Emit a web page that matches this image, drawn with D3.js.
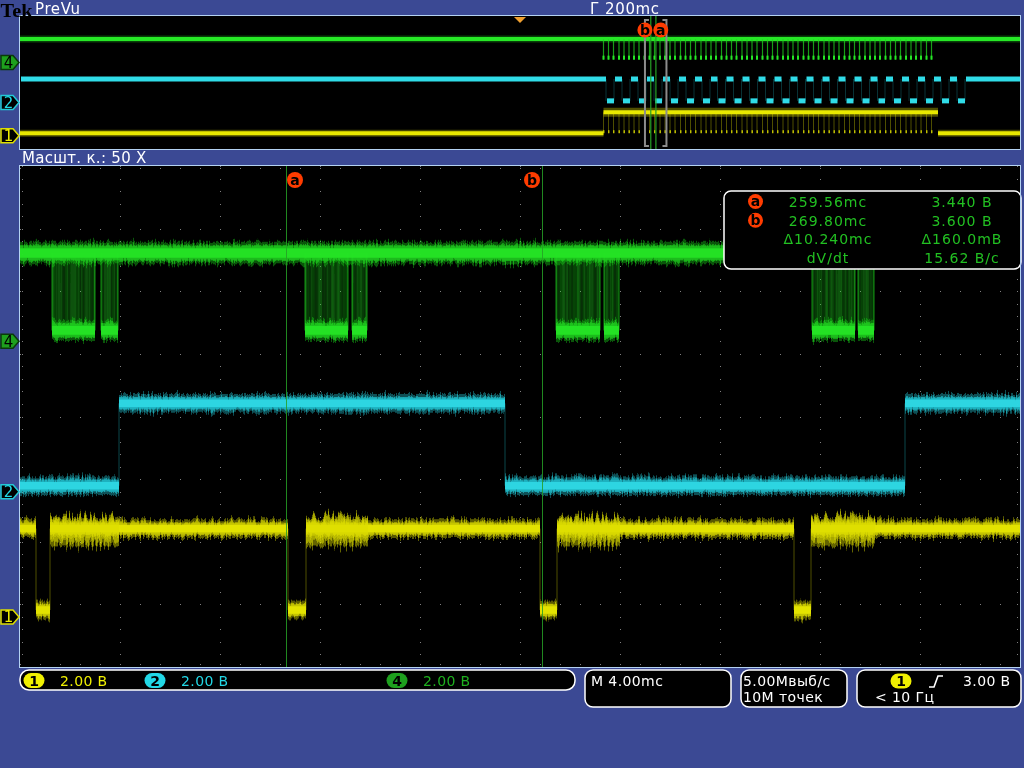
<!DOCTYPE html>
<html><head><meta charset="utf-8">
<script src="https://cdn.jsdelivr.net/npm/d3@7"></script>
<style>html,body{margin:0;padding:0;background:#3b4994;overflow:hidden}svg{display:block}</style>
</head><body>
<svg id="c" width="1024" height="768"></svg>
<script>
// ================= DATA =================
const timeWindow = [248.92, 288.92];        // ms shown in the zoomed view (10 div x 4 ms)
const overviewWindow = [-1000, 1000];       // ms, whole record (PreVu strip)
const channelNames = ["1", "2", "4"];
const channelPositions = [-3.2, -1.2, 1.2]; // ground marker, divisions from centre
const voltsPerDiv = [2, 2, 2];

// CH1 (yellow): step changes
const ch1Times = [248.92, 249.56, 250.12, 259.64, 260.36, 269.72, 270.40, 279.88, 280.56, 288.92];
const ch1Volts = [2.82, 0.22, 2.82, 0.22, 2.82, 0.22, 2.82, 0.22, 2.82];
const ch1NoiseStart = [250.12, 260.36, 270.40, 280.56];
const ch1NoiseEnd   = [252.88, 262.84, 272.92, 283.12];
const ch1NoiseTop = 3.38, ch1NoiseBottom = 2.10;

// CH2 (cyan)
const ch2Times = [248.92, 252.88, 268.32, 284.32, 288.92];
const ch2Volts = [0.19, 2.82, 0.19, 2.82];

// CH4 (green)
const ch4High = 2.82, ch4Low = 0.35;
const ch4BurstStart = [250.20, 252.16, 260.32, 262.20, 270.36, 272.28, 280.60, 282.44];
const ch4BurstEnd   = [251.92, 252.84, 262.04, 262.80, 272.12, 272.88, 282.32, 283.08];

// Cursors
const cursorNames = ["a", "b"];
const cursorTimes = [259.56, 269.80];
const readoutLabels = ["a", "b", "", ""];
const readoutLeft  = ["259.56mс", "269.80mс", "Δ10.240mс", "dV/dt"];
const readoutRight = ["3.440 В", "3.600 В", "Δ160.0mВ", "15.62 В/с"];

// Overview (PreVu) data
const ovHigh = 2.82, ovCh4Low = 0.35, ovCh2Low = 0.19, ovCh1Base = 0.3;
const ovBurst = [167, 836];
const ovSpikeTimes = [167,177,187,198,208,218,228,238,249,259,269,280,290,300,310,321,331,341,351,362,372,382,392,403,413,423,433,444,454,464,474,485,495,505,515,526,536,546,556,567,577,587,597,608,618,628,638,649,659,669,679,690,700,710,720,731,741,751,761,772,782,792,802,813,823];
const ovCh2Edges = [172,188,204,220,236,252,268,284,300,316,332,348,364,380,395,411,427,443,459,475,491,507,523,539,555,571,587,603,619,635,651,667,683,699,715,730,746,762,778,794,810,826,842,858,874,890];

// Status texts
const headerLeft = "PreVu";
const headerCenter = "Г 200mс";
const zoomText = "Масшт. к.: 50 X";
const chScaleText = ["2.00 В", "2.00 В", "2.00 В"];
const timebaseText = "M 4.00mс";
const acqText = ["5.00Мвыб/с", "10M точек"];
const trigText = ["3.00 В", "< 10 Гц"];

// ================= STYLE =================
const S = {
  bg: "#3b4994", border: "#b4d2f2", grid: "#808080",
  col: {"1": "#dede00", "2": "#22c8d6", "4": "#1fd41f"},
  core: {"1": "#e8e800", "2": "#30dce8", "4": "#26e826"},
  txt: {"1": "#f0f000", "2": "#22d8e6", "4": "#1eb01e"},
  pill: {"1": "#f0f000", "2": "#22d8e6", "4": "#1ea01e"},
  readout: "#22c022", cursor: "#26a026", label: "#ff3c00",
  font: "DejaVu Sans, sans-serif"
};

const svg = d3.select("#c");
svg.append("rect").attr("width", 1024).attr("height", 768).attr("fill", S.bg);
const defs = svg.append("defs");

// texture filters (visual noise styling only)
function fuzzFilter(id, fx, fy, scale, seed) {
  const f = defs.append("filter").attr("id", id).attr("filterUnits", "userSpaceOnUse")
    .attr("x", 0).attr("y", 0).attr("width", 1024).attr("height", 768);
  f.append("feTurbulence").attr("type", "fractalNoise").attr("baseFrequency", `${fx} ${fy}`)
    .attr("numOctaves", 2).attr("seed", seed).attr("result", "n");
  f.append("feColorMatrix").attr("in", "n").attr("type", "matrix")
    .attr("values", "0 0 0 0 0.5  0 1 0 0 0  0 0 0 0 0  0 0 0 0 1").attr("result", "m");
  f.append("feDisplacementMap").attr("in", "SourceGraphic").attr("in2", "m").attr("scale", scale)
    .attr("xChannelSelector", "R").attr("yChannelSelector", "G");
}
fuzzFilter("fuzz", 0.6, 0.02, 12, 3);
fuzzFilter("fuzzBig", 0.5, 0.02, 24, 7);
(function () {
  const f = defs.append("filter").attr("id", "stripes").attr("filterUnits", "userSpaceOnUse")
    .attr("x", 0).attr("y", 0).attr("width", 1024).attr("height", 768);
  f.append("feTurbulence").attr("type", "fractalNoise").attr("baseFrequency", "0.35 0.0005")
    .attr("numOctaves", 2).attr("seed", 11).attr("result", "n");
  f.append("feColorMatrix").attr("in", "n").attr("type", "matrix")
    .attr("values", "0 0 0 0 0  0 0 0 0 0  0 0 0 0 0  2.6 0 0 0 -0.9").attr("result", "a");
  f.append("feComposite").attr("in", "SourceGraphic").attr("in2", "a").attr("operator", "in");
})();

// ================= MAIN VIEW =================
const P = {x0: 20, x1: 1020, y0: 166, y1: 667};
const x = d3.scaleLinear(timeWindow, [P.x0, P.x1]);
const xDiv = d3.scaleLinear([0, 10], [P.x0, P.x1]);
const yDiv = d3.scaleLinear([-4, 4], [P.y1, P.y0]);
const yM = (ci, v) => yDiv(channelPositions[ci] + v / voltsPerDiv[ci]);

svg.append("rect").attr("x", P.x0).attr("y", P.y0).attr("width", P.x1 - P.x0).attr("height", P.y1 - P.y0).attr("fill", "#000");
defs.append("clipPath").attr("id", "clipM").append("rect").attr("x", P.x0).attr("y", P.y0).attr("width", P.x1 - P.x0).attr("height", P.y1 - P.y0);

// grid dots
const gGrid = svg.append("g").attr("fill", S.grid);
const vDots = [], hDots = [];
d3.range(1, 10).forEach(i => d3.range(0, 41).forEach(j => vDots.push([xDiv(i), yDiv(-4 + j * 0.2)])));
d3.range(-3, 4).forEach(k => d3.range(0, 51).forEach(m => hDots.push([xDiv(m * 0.2), yDiv(k)])));
d3.range(0, 51).forEach(m => { hDots.push([xDiv(m * 0.2), P.y0 + 2]); hDots.push([xDiv(m * 0.2), P.y1 - 3]); });
d3.range(0, 41).forEach(j => { vDots.push([P.x0 + 2, yDiv(-4 + j * 0.2)]); vDots.push([P.x1 - 3, yDiv(-4 + j * 0.2)]); });
gGrid.selectAll(null).data(vDots.concat(hDots)).join("rect")
  .attr("x", d => Math.round(d[0])).attr("y", d => Math.round(d[1])).attr("width", 1).attr("height", 1);

const gT = svg.append("g").attr("clip-path", "url(#clipM)");
const segs = (times, volts) => volts.map((v, i) => ({t0: times[i], t1: times[i + 1], v}));

function bands(g, data, ci, halfV, color, op) {
  g.append("g").selectAll("rect").data(data).join("rect")
    .attr("x", d => x(d.t0)).attr("width", d => x(d.t1) - x(d.t0))
    .attr("y", d => yM(ci, d.v + halfV))
    .attr("height", d => yM(ci, d.v - halfV) - yM(ci, d.v + halfV))
    .attr("fill", color).attr("opacity", op);
}
function edges(g, times, volts, ci, color, op) {
  const e = times.slice(1, -1).map((t, i) => ({t, a: volts[i], b: volts[i + 1]}));
  g.append("g").selectAll("line").data(e).join("line")
    .attr("x1", d => x(d.t)).attr("x2", d => x(d.t))
    .attr("y1", d => yM(ci, d.a)).attr("y2", d => yM(ci, d.b))
    .attr("stroke", color).attr("stroke-width", 1).attr("opacity", op);
}
function stepTrace(times, volts, ci, key) {
  const g = gT.append("g");
  const d = segs(times, volts);
  edges(g, times, volts, ci, S.col[key], 0.35);
  const fz = g.append("g").attr("filter", "url(#fuzz)");
  bands(fz, d, ci, 0.3, S.col[key], 0.4);
  bands(fz, d, ci, 0.2, S.col[key], 0.65);
  bands(g, d, ci, 0.19, S.col[key], 0.45);
  bands(g, d, ci, 0.12, S.core[key], 0.85);
  return g;
}

// CH2
stepTrace(ch2Times, ch2Volts, 1, "2");
// CH1
const g1 = stepTrace(ch1Times, ch1Volts, 0, "1");
const noise = ch1NoiseStart.map((s, i) => ({t0: s, t1: ch1NoiseEnd[i]}));
const g1n = g1.append("g").attr("filter", "url(#fuzzBig)");
g1n.append("g").selectAll("rect").data(noise).join("rect")
  .attr("x", d => x(d.t0)).attr("width", d => x(d.t1) - x(d.t0))
  .attr("y", yM(0, ch1NoiseTop - 0.15)).attr("height", yM(0, ch1NoiseBottom + 0.15) - yM(0, ch1NoiseTop - 0.15))
  .attr("fill", S.col["1"]).attr("opacity", 0.45);
g1n.append("g").selectAll("rect").data(noise).join("rect")
  .attr("x", d => x(d.t0)).attr("width", d => x(d.t1) - x(d.t0))
  .attr("y", yM(0, 3.15)).attr("height", yM(0, 2.4) - yM(0, 3.15))
  .attr("fill", S.col["1"]).attr("opacity", 0.55);

// CH4
const g4 = gT.append("g");
const bursts = ch4BurstStart.map((s, i) => ({t0: s, t1: ch4BurstEnd[i], v: ch4Low}));
g4.append("g").selectAll("rect").data(bursts).join("rect")
  .attr("x", d => x(d.t0)).attr("width", d => x(d.t1) - x(d.t0))
  .attr("y", yM(2, ch4High)).attr("height", yM(2, ch4Low) - yM(2, ch4High))
  .attr("fill", S.col["4"]).attr("opacity", 0.22);
g4.append("g").attr("filter", "url(#stripes)").selectAll("rect").data(bursts).join("rect")
  .attr("x", d => x(d.t0)).attr("width", d => x(d.t1) - x(d.t0))
  .attr("y", yM(2, ch4High)).attr("height", yM(2, ch4Low) - yM(2, ch4High))
  .attr("fill", S.col["4"]).attr("opacity", 0.3);
g4.append("g").selectAll("line").data(bursts.flatMap(d => [d.t0, d.t1])).join("line")
  .attr("x1", d => x(d)).attr("x2", d => x(d)).attr("y1", yM(2, ch4High)).attr("y2", yM(2, ch4Low))
  .attr("stroke", S.col["4"]).attr("stroke-width", 1.5).attr("opacity", 0.45);
const hiSeg = [{t0: timeWindow[0], t1: timeWindow[1], v: ch4High}];
const fz4 = g4.append("g").attr("filter", "url(#fuzz)");
bands(fz4, hiSeg, 2, 0.36, S.col["4"], 0.4);
bands(fz4, hiSeg, 2, 0.25, S.col["4"], 0.65);
bands(fz4, bursts, 2, 0.34, S.col["4"], 0.4);
bands(fz4, bursts, 2, 0.24, S.col["4"], 0.65);
bands(g4, hiSeg, 2, 0.24, S.col["4"], 0.45);
bands(g4, bursts, 2, 0.23, S.col["4"], 0.45);
bands(g4, hiSeg, 2, 0.15, S.core["4"], 0.85);
bands(g4, bursts, 2, 0.14, S.core["4"], 0.85);

// cursors
const gc = svg.append("g");
gc.selectAll("line").data(cursorTimes).join("line")
  .attr("x1", d => x(d) + 0.5).attr("x2", d => x(d) + 0.5).attr("y1", P.y0).attr("y2", P.y1)
  .attr("stroke", S.cursor).attr("stroke-width", 1).attr("opacity", 0.85);
function badge(g, cx, cy, t, r) {
  g.append("circle").attr("cx", cx).attr("cy", cy).attr("r", r).attr("fill", S.label);
  g.append("text").attr("x", cx).attr("y", cy + 4.5).attr("text-anchor", "middle")
    .attr("font-family", S.font).attr("font-weight", "bold").attr("font-size", 14).attr("fill", "#000").text(t);
}
cursorTimes.forEach((t, i) => badge(gc, x(t) + (i === 0 ? 9 : -10), 180, cursorNames[i], 8));

// readout box
const gr = svg.append("g");
gr.append("rect").attr("x", 724).attr("y", 191).attr("width", 297).attr("height", 78).attr("rx", 7)
  .attr("fill", "#000").attr("stroke", "#fff").attr("stroke-width", 1.5);
readoutLeft.forEach((t, i) => {
  const by = 207 + i * 18.7;
  if (readoutLabels[i]) badge(gr, 755.5, by - 5.5, readoutLabels[i], 7.5);
  gr.append("text").attr("x", 828).attr("y", by).attr("text-anchor", "middle").attr("font-family", S.font)
    .attr("font-size", 14).attr("letter-spacing", 1).attr("fill", S.readout).text(t);
  gr.append("text").attr("x", 962).attr("y", by).attr("text-anchor", "middle").attr("font-family", S.font)
    .attr("font-size", 14).attr("letter-spacing", 1).attr("fill", S.readout).text(readoutRight[i]);
});

svg.append("rect").attr("x", P.x0 - 0.5).attr("y", P.y0 - 0.5).attr("width", P.x1 - P.x0 + 1).attr("height", P.y1 - P.y0 + 1)
  .attr("fill", "none").attr("stroke", S.border).attr("stroke-width", 1);

// ================= OVERVIEW =================
const O = {x0: 20, x1: 1020, y0: 16, y1: 149};
const xO = d3.scaleLinear(overviewWindow, [O.x0, O.x1]);
const yDivO = d3.scaleLinear([-4, 4], [O.y1, O.y0]);
const yO = (ci, v) => yDivO(channelPositions[ci] + v / voltsPerDiv[ci]);
svg.append("rect").attr("x", O.x0).attr("y", O.y0).attr("width", O.x1 - O.x0).attr("height", O.y1 - O.y0).attr("fill", "#000");
defs.append("clipPath").attr("id", "clipO").append("rect").attr("x", O.x0).attr("y", O.y0).attr("width", O.x1 - O.x0).attr("height", O.y1 - O.y0);
const gO = svg.append("g").attr("clip-path", "url(#clipO)");
function hline(g, t0, t1, yy, color, w, op) {
  g.append("line").attr("x1", xO(t0)).attr("x2", xO(t1)).attr("y1", yy).attr("y2", yy)
    .attr("stroke", color).attr("stroke-width", w).attr("opacity", op);
}
// green
hline(gO, overviewWindow[0], overviewWindow[1], yO(2, ovHigh), S.col["4"], 7, 0.3);
hline(gO, overviewWindow[0], overviewWindow[1], yO(2, ovHigh), S.core["4"], 4, 1);
gO.append("g").selectAll("line").data(ovSpikeTimes).join("line")
  .attr("x1", d => xO(d)).attr("x2", d => xO(d)).attr("y1", yO(2, ovHigh)).attr("y2", yO(2, ovCh4Low))
  .attr("stroke", S.col["4"]).attr("stroke-width", 1.2).attr("opacity", 0.75);
gO.append("g").selectAll("rect").data(ovSpikeTimes).join("rect")
  .attr("x", d => xO(d) - 1).attr("y", yO(2, ovCh4Low) - 4).attr("width", 2).attr("height", 4)
  .attr("fill", S.core["4"]);
// cyan
const ovEdgesAll = [overviewWindow[0]].concat(ovCh2Edges, [overviewWindow[1]]);
const ovCyan = ovEdgesAll.slice(0, -1).map((t, i) => ({t0: t, t1: ovEdgesAll[i + 1], v: i % 2 === 0 ? ovHigh : ovCh2Low}));
gO.append("g").selectAll("line").data(ovCh2Edges).join("line")
  .attr("x1", d => xO(d)).attr("x2", d => xO(d)).attr("y1", yO(1, ovHigh)).attr("y2", yO(1, ovCh2Low))
  .attr("stroke", S.col["2"]).attr("stroke-width", 1).attr("opacity", 0.25);
gO.append("g").selectAll("rect").data(ovCyan).join("rect")
  .attr("x", d => xO(d.t0) + 1).attr("width", d => Math.max(0, xO(d.t1) - xO(d.t0) - 1))
  .attr("y", d => yO(1, d.v) - 2.5).attr("height", 5).attr("fill", S.core["2"]);
// yellow
hline(gO, overviewWindow[0], ovBurst[0], yO(0, ovCh1Base), S.col["1"], 7, 0.3);
hline(gO, overviewWindow[0], ovBurst[0], yO(0, ovCh1Base), S.core["1"], 4, 1);
hline(gO, ovBurst[1], overviewWindow[1], yO(0, ovCh1Base), S.col["1"], 7, 0.3);
hline(gO, ovBurst[1], overviewWindow[1], yO(0, ovCh1Base), S.core["1"], 4, 1);
gO.append("g").selectAll("line").data(ovSpikeTimes).join("line")
  .attr("x1", d => xO(d)).attr("x2", d => xO(d)).attr("y1", yO(0, ovHigh)).attr("y2", yO(0, ovCh1Base))
  .attr("stroke", S.col["1"]).attr("stroke-width", 1).attr("opacity", 0.35);
gO.append("g").selectAll("rect").data(ovSpikeTimes).join("rect")
  .attr("x", d => xO(d) - 0.5).attr("y", yO(0, ovCh1Base) - 3).attr("width", 1.5).attr("height", 3)
  .attr("fill", S.col["1"]).attr("opacity", 0.8);
hline(gO, ovBurst[0], ovBurst[1], yO(0, ovHigh), S.col["1"], 9, 0.35);
hline(gO, ovBurst[0], ovBurst[1], yO(0, ovHigh), S.core["1"], 4, 1);
// cursors and zoom bracket
gO.append("g").selectAll("line").data(cursorTimes).join("line")
  .attr("x1", d => xO(d) + 1).attr("x2", d => xO(d) + 1).attr("y1", O.y0).attr("y2", O.y1)
  .attr("stroke", S.cursor).attr("stroke-width", 1.2);
const bx0 = xO(timeWindow[0]) + 0.5, bx1 = xO(timeWindow[1]) + 2;
gO.append("path").attr("d", `M${bx0 + 4},20 H${bx0} V146 H${bx0 + 4} M${bx1 - 4},20 H${bx1} V146 H${bx1 - 4}`)
  .attr("fill", "none").attr("stroke", "#8c8c8c").attr("stroke-width", 2);
badge(svg, xO(cursorTimes[1]) - 10, 30, "b", 7.5);
badge(svg, xO(cursorTimes[0]) + 11, 30, "a", 7.5);
svg.append("rect").attr("x", O.x0 - 0.5).attr("y", O.y0 - 0.5).attr("width", O.x1 - O.x0 + 1).attr("height", O.y1 - O.y0 + 1)
  .attr("fill", "none").attr("stroke", S.border).attr("stroke-width", 1);
// trigger position marker
svg.append("path").attr("d", `M${xO(0) - 6},17 L${xO(0) + 6},17 L${xO(0)},23 Z`).attr("fill", "#f0a030");

// ================= HEADER / LABELS =================
svg.append("text").attr("x", 0.5).attr("y", 16.5).attr("font-family", "Liberation Serif, serif").attr("font-weight", "bold")
  .attr("font-size", 18.5).attr("textLength", 32).attr("lengthAdjust", "spacingAndGlyphs")
  .attr("fill", "#000").text("Tek");
svg.append("text").attr("x", 35).attr("y", 13.5).attr("font-family", S.font).attr("font-size", 15)
  .attr("letter-spacing", 0.6).attr("fill", "#fff").text(headerLeft);
svg.append("text").attr("x", 590).attr("y", 13.5).attr("font-family", S.font).attr("font-size", 15)
  .attr("letter-spacing", 0.6).attr("fill", "#fff").text(headerCenter);
svg.append("text").attr("x", 22).attr("y", 163).attr("font-family", S.font).attr("font-size", 15)
  .attr("letter-spacing", 0.3).attr("fill", "#fff").text(zoomText);

// channel markers
function chMarker(yy, ci) {
  const key = channelNames[ci];
  const filled = key === "4";
  const g = svg.append("g");
  g.append("path").attr("d", `M1,${yy - 7} L13,${yy - 7} L19,${yy} L13,${yy + 7} L1,${yy + 7} Z`)
    .attr("fill", filled ? S.pill["4"] : "#000").attr("stroke", filled ? "#0a3a0a" : S.col[key]).attr("stroke-width", 1.5);
  g.append("text").attr("x", 8.5).attr("y", yy + 5.5).attr("text-anchor", "middle").attr("font-family", S.font)
    .attr("font-size", 15).attr("fill", filled ? "#000" : S.txt[key]).text(key);
}
[0, 1, 2].forEach(ci => { chMarker(yO(ci, 0), ci); chMarker(yM(ci, 0), ci); });

// ================= STATUS BAR =================
function box(x0, y0, w, h, rx) {
  svg.append("rect").attr("x", x0).attr("y", y0).attr("width", w).attr("height", h).attr("rx", rx)
    .attr("fill", "#000").attr("stroke", "#fff").attr("stroke-width", 1.5);
}
function pill(cx, cy, key) {
  svg.append("rect").attr("x", cx - 10.5).attr("y", cy - 7.5).attr("width", 21).attr("height", 15).attr("rx", 7.5).attr("fill", S.pill[key]);
  svg.append("text").attr("x", cx).attr("y", cy + 5).attr("text-anchor", "middle").attr("font-family", S.font)
    .attr("font-weight", "bold").attr("font-size", 14).attr("fill", "#000").text(key);
}
function stxt(x0, y0, t, color) {
  return svg.append("text").attr("x", x0).attr("y", y0).attr("font-family", S.font).attr("font-size", 14)
    .attr("letter-spacing", 0.4).attr("fill", color).text(t);
}
box(20, 670, 555, 20, 9);
const pillX = [34, 155, 397], txtX = [60, 181, 423];
channelNames.forEach((k, i) => { pill(pillX[i], 680.5, k); stxt(txtX[i], 686, chScaleText[i], S.txt[k]); });
box(585, 670, 146, 37, 8);
stxt(591, 686, timebaseText, "#fff");
box(741, 670, 106, 37, 8);
defs.append("clipPath").attr("id", "clipA").append("rect").attr("x", 741).attr("y", 670).attr("width", 105).attr("height", 37);
stxt(743, 686, acqText[0], "#fff").attr("clip-path", "url(#clipA)");
stxt(743, 702, acqText[1], "#fff");
box(857, 670, 164, 37, 8);
pill(901, 681, "1");
svg.append("path").attr("d", "M929,687 L934,687 L938,676 L943,676").attr("fill", "none").attr("stroke", "#fff").attr("stroke-width", 1.6);
stxt(963, 686, trigText[0], "#fff");
stxt(875, 702, trigText[1], "#fff");
</script>
</body></html>
